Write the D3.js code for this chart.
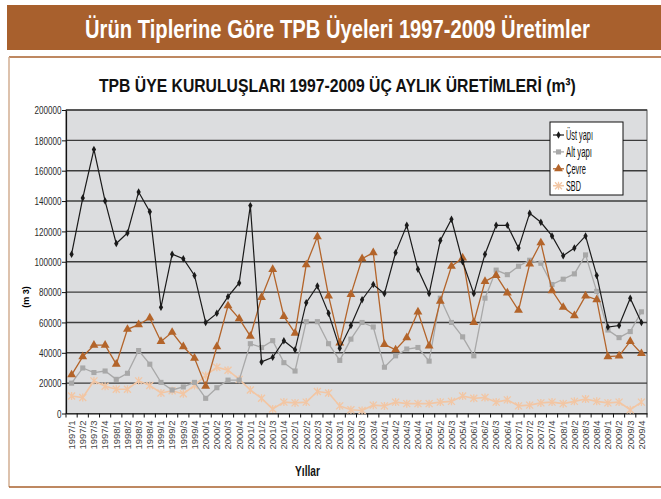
<!DOCTYPE html>
<html><head><meta charset="utf-8">
<script src="https://cdn.jsdelivr.net/npm/d3@7"></script>
<style>body{margin:0;background:#fff}svg{display:block}</style>
</head><body>
<svg id="c" width="661" height="499"></svg>
<script>
const categories = ["1997/1","1997/2","1997/3","1997/4","1998/1","1998/2","1998/3","1998/4","1999/1","1999/2","1999/3","1999/4","2000/1","2000/2","2000/3","2000/4","2001/1","2001/2","2001/3","2001/4","2002/1","2002/2","2002/3","2002/4","2003/1","2003/2","2003/3","2003/4","2004/1","2004/2","2004/3","2004/4","2005/1","2005/2","2005/3","2005/4","2006/1","2006/2","2006/3","2006/4","2007/1","2007/2","2007/3","2007/4","2008/1","2008/2","2008/3","2008/4","2009/1","2009/2","2009/3","2009/4"];
const ustYapi = [105000,142000,174000,140000,112000,119000,146000,133000,70000,105000,102000,91000,60000,66000,77000,86000,137000,34000,37000,48000,42000,73000,84000,66000,43000,58000,75000,85000,79000,106000,124000,95000,79000,114000,128000,100000,79000,105000,124000,124000,109000,132000,126000,117000,104000,109000,117000,91000,57000,58000,76000,60000];
const altYapi = [20000,30000,27000,28000,22500,26500,41500,32500,20500,15500,17500,20500,10000,17000,22000,22000,46000,43500,48000,33500,28000,60500,60500,46000,35000,49000,60000,57000,30500,38000,42500,43500,34500,76000,60000,50500,38000,76000,94500,91500,97000,101000,99000,85000,88500,92000,104500,80500,55000,50000,54000,67000];
const cevre = [25500,37500,45000,45000,32500,55500,58500,63000,47500,53500,44000,36500,18000,44000,71000,62500,51000,76500,95000,64000,53000,98000,116500,77500,46500,78500,102000,106000,45500,42000,50000,67000,44500,74000,97000,102500,60000,87000,91000,79500,68000,98500,112500,81000,70000,64500,77500,75000,37500,38000,47500,39500];
const sbd = [11500,10500,21500,18000,16000,16000,21500,18500,13500,15000,13000,18500,25000,30500,28500,22500,15500,10000,3000,7500,7000,7500,14500,13500,5000,2500,2000,5500,5000,7500,6500,6500,6500,7500,8000,11500,10000,10500,7500,9000,5000,5500,7000,7500,6500,8000,9500,8000,7000,7500,2500,7500];
const yTicks = [0,20000,40000,60000,80000,100000,120000,140000,160000,180000,200000];
const seriesNames = ["Üst yapı","Alt yapı","Çevre","SBD"];

const svg = d3.select("#c");
const brown = "#A8602D";
const sans = "'Liberation Sans',Arial,sans-serif";

// place text at (x,y) and squeeze it horizontally to a target width
function fitText(parent, x, y, str, width, size, bold, color, anchor){
  const g = parent.append("g").attr("transform",`translate(${x},${y})`);
  const t = g.append("text").attr("font-family",sans).attr("font-size",size)
    .attr("font-weight",bold?"bold":"normal").attr("fill",color||"#111")
    .attr("text-anchor",anchor||"start").text(str);
  const w = t.node().getComputedTextLength();
  t.attr("transform",`scale(${width/w},1)`);
  return g;
}

// frame
svg.append("rect").attr("x",7).attr("y",5).attr("width",654).attr("height",45).attr("fill",brown);
fitText(svg,85,38,"Ürün Tiplerine Göre TPB Üyeleri 1997-2009 Üretimler",505,25,true,"#fff");
svg.append("line").attr("x1",9).attr("x2",661).attr("y1",57).attr("y2",57).attr("stroke",brown).attr("stroke-width",1.5);
svg.append("line").attr("x1",9).attr("x2",9).attr("y1",57).attr("y2",487).attr("stroke","#D2AE92").attr("stroke-width",1.5);
svg.append("line").attr("x1",9).attr("x2",661).attr("y1",487).attr("y2",487).attr("stroke",brown).attr("stroke-width",1.5);

fitText(svg,99,92,"TPB ÜYE KURULUŞLARI 1997-2009 ÜÇ AYLIK ÜRETİMLERİ (m³)",477,19,true,"#111");

const L=66, R=647, T=110, B=413.5;
const x = d3.scaleBand().domain(categories).range([L,R]);
const y = d3.scaleLinear().domain([0,200000]).range([B,T]);
const cx = d => x(d) + x.bandwidth()/2;

svg.append("rect").attr("x",L).attr("y",T).attr("width",R-L).attr("height",B-T).attr("fill","#DCDDDF").attr("stroke","#555").attr("stroke-width",1);
svg.append("g").selectAll("line").data(yTicks.filter(v=>v>0)).join("line")
  .attr("x1",L).attr("x2",R).attr("y1",d=>y(d)).attr("y2",d=>y(d)).attr("stroke","#3c3c3c").attr("stroke-width",1.4);

// y axis
const ya = svg.append("g").attr("transform",`translate(${L},0)`).call(d3.axisLeft(y).tickValues(yTicks).tickFormat(d3.format("d")).tickSize(4).tickSizeOuter(0));
ya.select(".domain").attr("stroke","#111").attr("stroke-width",1.2);
ya.selectAll(".tick line").attr("stroke","#111");
ya.selectAll(".tick text").each(function(d){
  const t = d3.select(this).attr("font-family",sans).attr("font-size",11.5).attr("fill","#2a2a2a").attr("x",0);
  const w = this.getComputedTextLength();
  const target = String(d).length*4.5;
  t.attr("transform",`translate(-4.5,0) scale(${target/w},1)`);
});

// x axis
const xa = svg.append("g").attr("transform",`translate(0,${B})`).call(d3.axisBottom(x).tickSize(0).tickSizeOuter(0));
xa.select(".domain").attr("stroke","#111").attr("stroke-width",1.2);
xa.selectAll("text").attr("font-family",sans).attr("font-size",9.5).attr("fill","#444")
  .attr("transform","translate(0,7) rotate(-90)").attr("text-anchor","end").attr("x",0).attr("y",0).attr("dy","0.35em");
svg.append("g").selectAll("line").data(categories.concat(["__end"])).join("line")
  .attr("x1",(d,i)=>L+i*x.step()).attr("x2",(d,i)=>L+i*x.step()).attr("y1",B).attr("y2",B+4).attr("stroke","#111");

svg.append("text").attr("transform","translate(29,297) rotate(-90)").attr("text-anchor","middle")
  .attr("font-family",sans).attr("font-weight","bold").attr("font-size",9).text("(m 3)");
fitText(svg,295,476,"Yıllar",25,14,true,"#111");

// series
const specs = [
  {name:seriesNames[3], data:sbd, color:"#F2C6A4", w:1.6, marker:"ast"},
  {name:seriesNames[1], data:altYapi, color:"#A8A8A8", w:1.3, marker:"sq"},
  {name:seriesNames[2], data:cevre, color:"#B3642A", w:1.3, marker:"tri"},
  {name:seriesNames[0], data:ustYapi, color:"#1a1a1a", w:1.2, marker:"dia"}
];
const line = d3.line().x((d,i)=>cx(categories[i])).y(d=>y(d));
function drawMarker(g, m, color){
  if(m==="ast"){
    g.append("path").attr("d","M-3.5,-3.5L3.5,3.5M-3.5,3.5L3.5,-3.5M0,-4L0,4").attr("stroke",color).attr("stroke-width",1.3).attr("fill","none");
  } else {
    const sym = m==="sq"?d3.symbolSquare:m==="tri"?d3.symbolTriangle:d3.symbolDiamond;
    const size = m==="sq"?26:m==="tri"?34:16;
    g.append("path").attr("d",d3.symbol(sym,size)()).attr("fill",color);
  }
}
specs.forEach(s=>{
  svg.append("path").datum(s.data).attr("d",line).attr("fill","none").attr("stroke",s.color).attr("stroke-width",s.w);
  s.data.forEach((v,i)=>{
    const g = svg.append("g").attr("transform",`translate(${cx(categories[i])},${y(v)})`);
    drawMarker(g,s.marker,s.color);
  });
});

// legend
const lg = svg.append("g");
lg.append("rect").attr("x",550).attr("y",122).attr("width",73).attr("height",73).attr("fill","#fff").attr("stroke","#111").attr("stroke-width",1);
const legSpecs = [specs[3],specs[1],specs[2],specs[0]];
const legW = [27,26,20,15];
legSpecs.forEach((s,i)=>{
  const yy = 135 + i*16.9;
  lg.append("line").attr("x1",553).attr("x2",564).attr("y1",yy).attr("y2",yy).attr("stroke",s.color).attr("stroke-width",s.w);
  drawMarker(lg.append("g").attr("transform",`translate(558.5,${yy})`),s.marker,s.color);
  fitText(lg,566,yy+5,s.name,legW[i],14.5,false,"#111");
});
</script>
</body></html>
